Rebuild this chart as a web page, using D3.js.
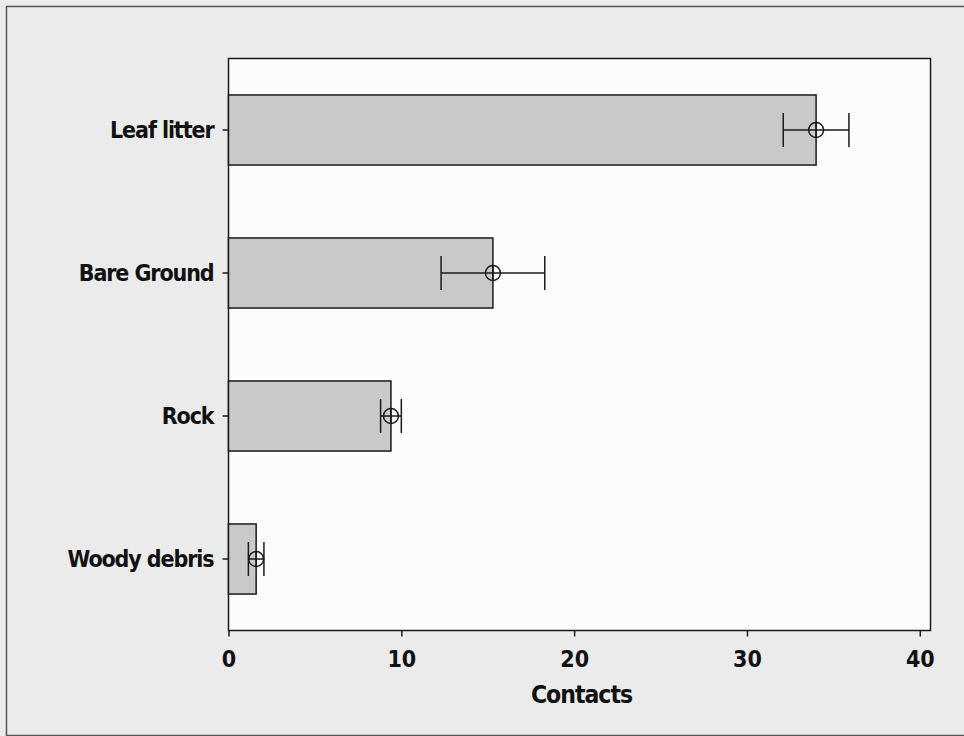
<!DOCTYPE html>
<html>
<head>
<meta charset="utf-8">
<script src="https://cdn.jsdelivr.net/npm/d3@7"></script>
<style>
  html, body { margin: 0; padding: 0; background: #ebebeb; }
  svg { display: block; }
</style>
</head>
<body>
<svg id="chart" width="964" height="736"></svg>
<script>
// Ground-cover contacts: mean with error bars
const categories = ["Leaf litter", "Bare Ground", "Rock", "Woody debris"];
const means = [34.0, 15.3, 9.4, 1.6];
const errors = [1.9, 3.0, 0.6, 0.45];
const xTicks = [0, 10, 20, 30, 40];
const xLabel = "Contacts";

const svg = d3.select("#chart");
const W = 964, H = 736;
const plot = { left: 228.5, top: 58.5, right: 930.5, bottom: 630.5 };
const ink = "#1a1a1a";

// outer frame (top, left and bottom edges)
svg.append("rect")
  .attr("x", 0).attr("y", 0).attr("width", W).attr("height", H)
  .attr("fill", "#ebebeb");
svg.append("path")
  .attr("d", `M${W},6.5 H6.5 V735.5 H${W}`)
  .attr("fill", "none").attr("stroke", "#555").attr("stroke-width", 1.5);

const x = d3.scaleLinear().domain([0, 40.62]).range([plot.left, plot.right]);
const y = d3.scaleBand().domain(categories).range([plot.top, plot.bottom]).paddingInner(0.51).paddingOuter(0.255);

// plot background
svg.append("rect")
  .attr("x", plot.left).attr("y", plot.top)
  .attr("width", plot.right - plot.left).attr("height", plot.bottom - plot.top)
  .attr("fill", "#fcfcfc").attr("stroke", ink).attr("stroke-width", 1.5);

const rows = categories.map((c, i) => ({ c, m: means[i], e: errors[i] }));

// bars
svg.append("g").selectAll("rect").data(rows).join("rect")
  .attr("x", x(0))
  .attr("y", d => y(d.c))
  .attr("width", d => x(d.m) - x(0))
  .attr("height", y.bandwidth())
  .attr("fill", "#c9c9c9")
  .attr("stroke", ink).attr("stroke-width", 1.5);

// error bars with mean markers
const eb = svg.append("g").attr("stroke", ink).attr("stroke-width", 1.5).attr("fill", "none");
const capHalf = 17;
rows.forEach(d => {
  const cy = y(d.c) + y.bandwidth() / 2;
  eb.append("line").attr("x1", x(d.m - d.e)).attr("x2", x(d.m + d.e)).attr("y1", cy).attr("y2", cy);
  eb.append("line").attr("x1", x(d.m - d.e)).attr("x2", x(d.m - d.e)).attr("y1", cy - capHalf).attr("y2", cy + capHalf);
  eb.append("line").attr("x1", x(d.m + d.e)).attr("x2", x(d.m + d.e)).attr("y1", cy - capHalf).attr("y2", cy + capHalf);
  eb.append("circle").attr("cx", x(d.m)).attr("cy", cy).attr("r", 7.5);
  eb.append("line").attr("x1", x(d.m)).attr("x2", x(d.m)).attr("y1", cy - 7.5).attr("y2", cy + 7.5);
});

const labelFont = "'DejaVu Sans Condensed', 'DejaVu Sans', sans-serif";

// x axis
const xAxis = svg.append("g")
  .attr("transform", `translate(0,${plot.bottom})`)
  .call(d3.axisBottom(x).tickValues(xTicks).tickSize(6).tickPadding(14).tickSizeOuter(0));
xAxis.select(".domain").remove();
xAxis.selectAll("line").attr("stroke", ink).attr("stroke-width", 1.5);
xAxis.selectAll("text")
  .attr("fill", "#111")
  .style("font-family", labelFont)
  .style("font-weight", "bold")
  .style("font-size", "23px");

// y axis
const yAxis = svg.append("g")
  .attr("transform", `translate(${plot.left},0)`)
  .call(d3.axisLeft(y).tickSize(6).tickPadding(9).tickSizeOuter(0));
yAxis.select(".domain").remove();
yAxis.selectAll("line").attr("stroke", ink).attr("stroke-width", 1.5);
yAxis.selectAll("text")
  .attr("fill", "#111")
  .attr("dy", "0.36em")
  .style("font-family", labelFont)
  .style("font-weight", "bold")
  .style("font-size", "23px")
  .style("letter-spacing", "-1.1px");

// axis title
svg.append("text")
  .attr("x", (plot.left + plot.right) / 2 + 2)
  .attr("y", 703)
  .attr("text-anchor", "middle")
  .attr("fill", "#111")
  .style("font-family", labelFont)
  .style("font-weight", "bold")
  .style("font-size", "24.5px")
  .style("letter-spacing", "-1px")
  .text(xLabel);
</script>
</body>
</html>
